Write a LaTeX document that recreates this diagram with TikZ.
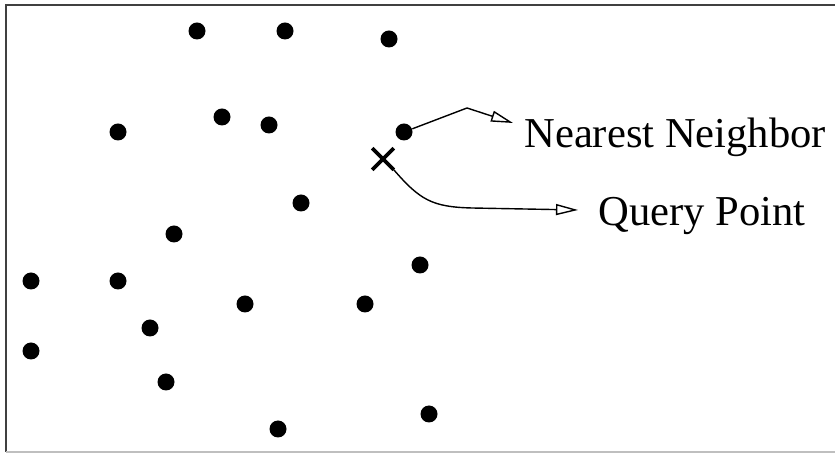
\documentclass[tikz,border=0pt]{standalone}
\usepackage{fontspec}
\setmainfont{Liberation Serif}
\usetikzlibrary{arrows.meta,shapes.misc}
\tikzset{
  pt/.style={circle, fill=black, inner sep=0pt, minimum size=8.5pt},
  qry/.style={cross out, draw=black, line width=1.8pt, inner sep=0pt, minimum size=9pt},
  lbl/.style={anchor=base west, inner sep=0pt, font=\fontsize{21.3}{25}\selectfont},
  ptr/.style={line width=0.7pt, -{Triangle[open, length=11pt, width=5.5pt]}}
}
\begin{document}
\begin{tikzpicture}[x=0.5pt, y=-0.5pt]
  \useasboundingbox (0,0) rectangle (835,453);
  % Frame (cut off on the right)
  \draw[line width=1pt, black!75] (6,452) -- (6,5) -- (835,5);
  \draw[line width=0.8pt, black!25] (6,452) -- (835,452);
  % Data points
  \node[pt] (p1) at (197,31) {};
  \node[pt] (p2) at (285,31) {};
  \node[pt] (p3) at (389,39) {};
  \node[pt] (p4) at (118,132) {};
  \node[pt] (p5) at (222,117) {};
  \node[pt] (p6) at (269,125) {};
  \node[pt] (nn) at (404,132) {};
  \node[pt] (p7) at (301,203) {};
  \node[pt] (p8) at (174,234) {};
  \node[pt] (p9) at (31,281) {};
  \node[pt] (p10) at (118,281) {};
  \node[pt] (p11) at (420,265) {};
  \node[pt] (p12) at (245,304) {};
  \node[pt] (p13) at (365,304) {};
  \node[pt] (p14) at (150,328) {};
  \node[pt] (p15) at (31,351) {};
  \node[pt] (p16) at (166,382) {};
  \node[pt] (p17) at (429,414) {};
  \node[pt] (p18) at (278,429) {};
  % Query point
  \node[qry] (q) at (383,159) {};
  % Labels
  \node[lbl] (nnlabel) at (524,148) {Nearest Neighbor};
  \node[lbl] (qlabel) at (598,226) {Query Point};
  \coordinate (nntip) at (513,123);
  \coordinate (qtip) at (578,210);
  % Pointers
  \draw[ptr] (nn) -- (467,108) -- (nntip);
  \draw[ptr] (q.south east) .. controls (420,200) and (432,207) .. (472,208) -- (qtip);
\end{tikzpicture}
\end{document}
